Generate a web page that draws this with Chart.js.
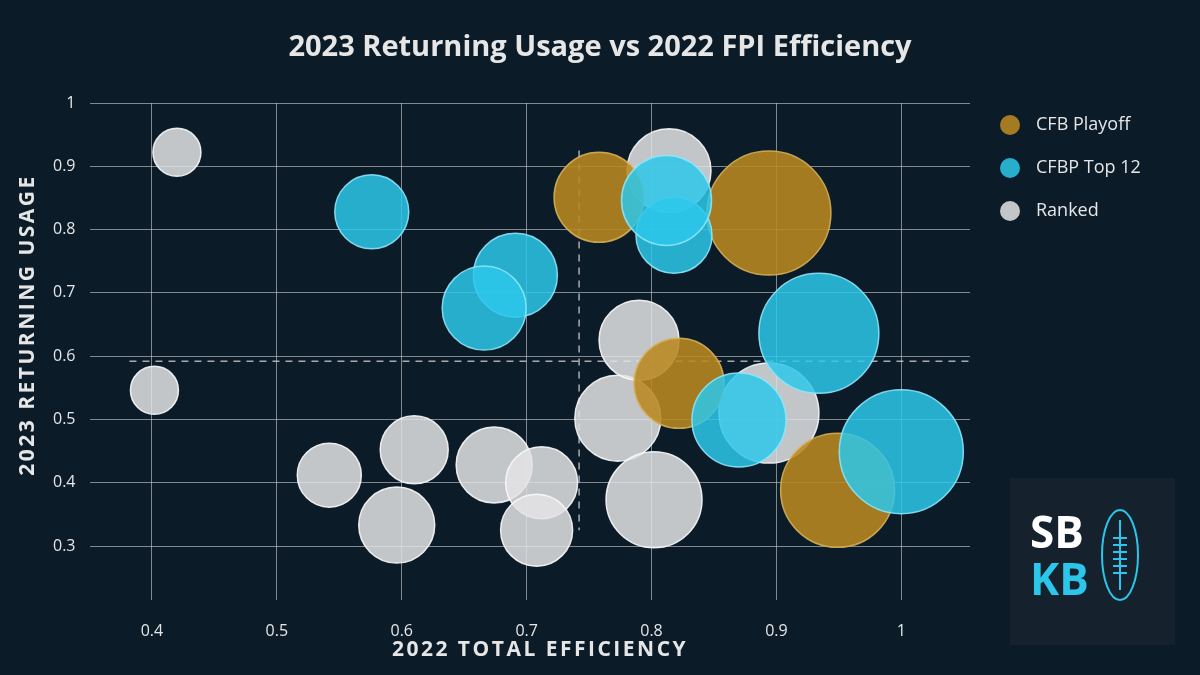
<!DOCTYPE html>
<html lang="en">
<head>
  <meta charset="UTF-8" />
  <title>2023 Returning Usage vs 2022 FPI Efficiency</title>
  <script src="https://cdn.jsdelivr.net/npm/chart.js@4.4.0/dist/chart.umd.min.js"></script>
  <style>
    body { margin: 0; background: #0b1b27; overflow: hidden; }
    canvas { display: block; }
  </style>
</head>
<body>
  <canvas id="c" width="1200" height="675"></canvas>
  <script>
    // [efficiency, returning usage, bubble radius]
    const playoff = [
      [0.758, 0.851, 45], [0.894, 0.826, 62], [0.822, 0.557, 45], [0.949, 0.388, 57]
    ];
    const top12 = [
      [0.576, 0.828, 37], [0.691, 0.728, 42], [0.666, 0.676, 42], [0.818, 0.791, 38],
      [0.812, 0.846, 45], [0.934, 0.636, 60], [0.870, 0.499, 47], [1.0, 0.449, 62]
    ];
    const ranked = [
      [0.42, 0.922, 24], [0.402, 0.546, 24], [0.542, 0.412, 32], [0.610, 0.452, 34],
      [0.596, 0.333, 38], [0.674, 0.428, 38], [0.712, 0.400, 36], [0.708, 0.325, 36],
      [0.773, 0.502, 43], [0.790, 0.625, 40], [0.802, 0.373, 48], [0.814, 0.893, 42],
      [0.894, 0.510, 50]
    ];
    const xTicks = [0.4, 0.5, 0.6, 0.7, 0.8, 0.9, 1];
    const yTicks = [0.3, 0.4, 0.5, 0.6, 0.7, 0.8, 0.9, 1];
    const avgX = 0.742, avgY = 0.592;
    const labels = ['CFB Playoff', 'CFBP Top 12', 'Ranked'];
    const colors = ['rgba(185,137,32,0.88)', 'rgba(45,200,235,0.85)', 'rgba(228,228,230,0.85)'];
    const borders = ['rgba(215,175,90,0.9)', 'rgba(140,230,250,0.9)', 'rgba(250,250,250,0.9)'];

    const pts = a => a.map(p => ({ x: p[0], y: p[1], r: p[2] }));
    const txt = '#e6e6e6';

    const extras = {
      id: 'extras',
      afterDraw(chart) {
        const ctx = chart.ctx;
        ctx.save();
        // title
        ctx.fillStyle = txt;
        ctx.textAlign = 'center';
        ctx.textBaseline = 'middle';
        ctx.font = 'bold 29px "Open Sans"';
        ctx.fillText('2023 Returning Usage vs 2022 FPI Efficiency', 600, 48);
        // axis titles
        ctx.font = 'bold 21px "Open Sans"';
        ctx.letterSpacing = '2.5px';
        ctx.fillText('2022 TOTAL EFFICIENCY', 540, 650);
        ctx.save();
        ctx.translate(28, 325);
        ctx.rotate(-Math.PI / 2);
        ctx.fillText('2023 RETURNING USAGE', 0, 0);
        ctx.restore();
        ctx.letterSpacing = '0px';
        // legend
        ctx.textAlign = 'left';
        ctx.font = '18px "Open Sans"';
        labels.forEach((l, i) => {
          const y = 125 + i * 43;
          ctx.fillStyle = colors[i];
          ctx.beginPath(); ctx.arc(1010, y, 10, 0, Math.PI * 2); ctx.fill();
          ctx.fillStyle = txt;
          ctx.fillText(l, 1036, y);
        });
        // logo box
        ctx.fillStyle = '#15212c';
        ctx.fillRect(1010, 478, 165, 167);
        ctx.font = 'bold 44px "Open Sans"';
        ctx.fillStyle = '#ffffff';
        ctx.fillText('SB', 1030, 535);
        ctx.fillStyle = '#2bc6ea';
        ctx.fillText('KB', 1030, 582);
        ctx.strokeStyle = '#2bc6ea';
        ctx.lineWidth = 2;
        ctx.beginPath(); ctx.ellipse(1120, 555, 18, 45, 0, 0, Math.PI * 2); ctx.stroke();
        ctx.beginPath(); ctx.moveTo(1120, 520); ctx.lineTo(1120, 590); ctx.stroke();
        for (let k = 0; k < 6; k++) {
          ctx.beginPath(); ctx.moveTo(1113, 538 + k * 7); ctx.lineTo(1127, 538 + k * 7); ctx.stroke();
        }
        ctx.restore();
      }
    };

    const dash = { type: 'line', borderColor: 'rgba(220,220,220,0.75)', borderWidth: 1.5,
      borderDash: [7, 6], pointRadius: 0, fill: false, order: 10 };

    new Chart(document.getElementById('c'), {
      type: 'bubble',
      data: {
        datasets: [
          Object.assign({ data: [{ x: 0.382, y: avgY }, { x: 1.055, y: avgY }] }, dash),
          Object.assign({ data: [{ x: avgX, y: 0.925 }, { x: avgX, y: 0.325 }] }, dash),
          { label: labels[2], data: pts(ranked), backgroundColor: colors[2], borderColor: borders[2], borderWidth: 1.5, order: 3 },
          { label: labels[0], data: pts(playoff), backgroundColor: colors[0], borderColor: borders[0], borderWidth: 1.5, order: 2 },
          { label: labels[1], data: pts(top12), backgroundColor: colors[1], borderColor: borders[1], borderWidth: 1.5, order: 1 }
        ]
      },
      options: {
        responsive: false,
        animation: false,
        layout: { padding: { left: 39, right: 230, top: 103, bottom: 12 } },
        plugins: {
          legend: { display: false },
          tooltip: { enabled: false }
        },
        scales: {
          x: {
            type: 'linear', min: 0.35, max: 1.055,
            afterBuildTicks: ax => { ax.ticks = xTicks.map(v => ({ value: v })); },
            ticks: { color: txt, font: { family: 'Open Sans', size: 16 }, padding: 22,
              callback: v => String(+v.toFixed(2)) },
            grid: { color: 'rgba(210,210,210,0.6)', drawTicks: false },
            border: { display: false }
          },
          y: {
            type: 'linear', min: 0.215, max: 1.0,
            afterBuildTicks: ax => { ax.ticks = yTicks.map(v => ({ value: v })); },
            ticks: { color: txt, font: { family: 'Open Sans', size: 16 }, padding: 14,
              callback: v => String(+v.toFixed(2)) },
            grid: { color: 'rgba(210,210,210,0.6)', drawTicks: false },
            border: { display: false }
          }
        }
      },
      plugins: [extras]
    });
  </script>
</body>
</html>
